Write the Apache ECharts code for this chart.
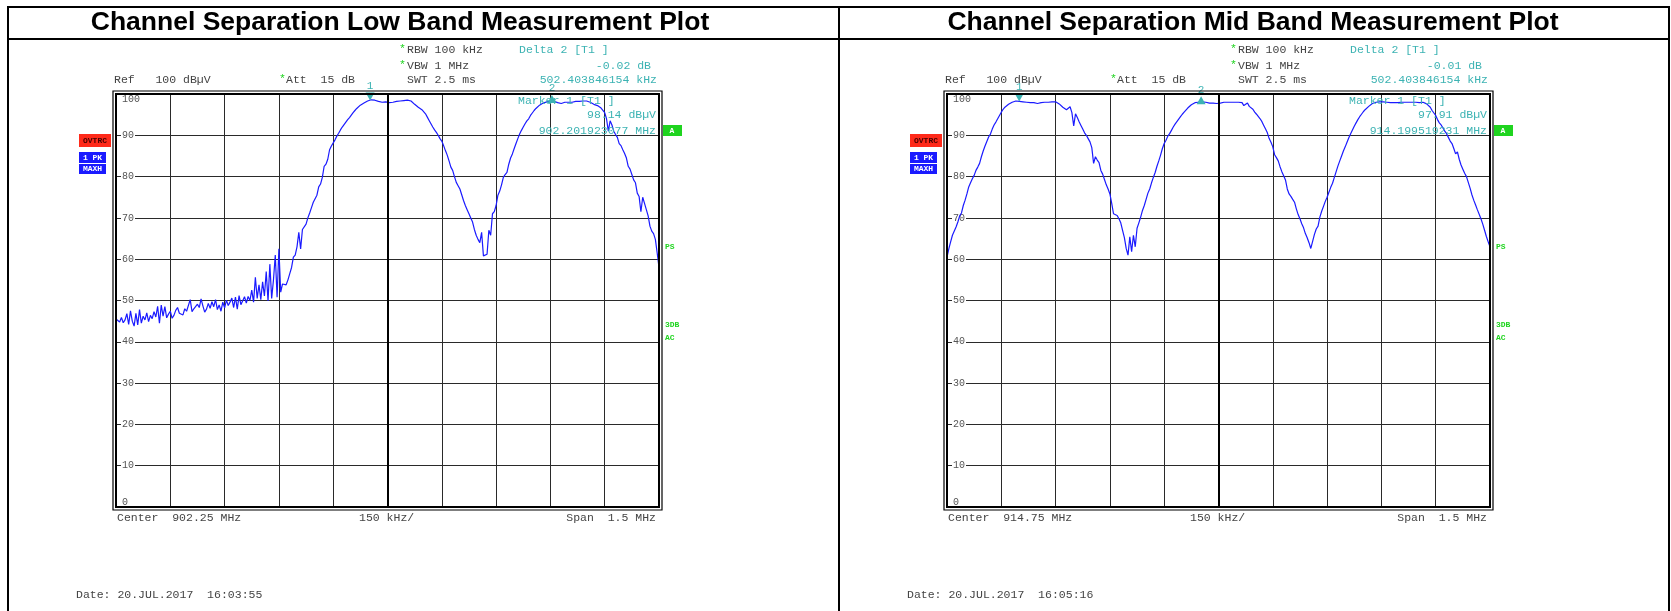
<!DOCTYPE html>
<html>
<head>
<meta charset="utf-8">
<title>Channel Separation Measurement Plots</title>
<script src="https://cdn.jsdelivr.net/npm/echarts@6.0.0/dist/echarts.min.js"></script>
<style>
  html, body { margin: 0; padding: 0; background: #fff; }
  #chart { width: 1671px; height: 611px; }
</style>
</head>
<body>
<div id="chart"></div>
<script>
// sweep: 1.5 MHz span, trace read every 5 kHz from the start frequency
const spanKHz = 1500;
const stepKHz = 5;
const divKHz = 150;
const deltaKHz = 502.403846154;

const lowStartMHz = 901.5;
const midStartMHz = 914.0;
const lowMarker1MHz = 902.201923077;
const midMarker1MHz = 914.199519231;

const titles = ['Channel Separation Low Band Measurement Plot', 'Channel Separation Mid Band Measurement Plot'];
const centerLabels = ['Center  902.25 MHz', 'Center  914.75 MHz'];
const deltaLevels = ['-0.02 dB', '-0.01 dB'];
const markerLevels = ['98.14 dBµV', '97.91 dBµV'];
const markerFreqs = ['902.201923077 MHz', '914.199519231 MHz'];
const dates = ['Date: 20.JUL.2017  16:03:55', 'Date: 20.JUL.2017  16:05:16'];

// low band trace, dBµV
const lowLevels = [
  45.5, 45.2, 44.8, 45.9, 44.6, 45.3, 46.8, 44.2, 47.5, 45.0, 43.8, 46.9, 44.1, 47.8, 44.5, 46.2, 45.3, 47.0, 44.9, 46.4,
  45.6, 47.3, 46.0, 48.6, 44.5, 48.9, 46.2, 48.5, 45.8, 46.7, 47.4, 45.7, 46.4, 47.6, 48.3, 46.9, 47.2, 46.5, 48.0, 47.4,
  47.0, 50.2, 47.3, 48.0, 47.6, 49.1, 48.3, 50.4, 48.7, 47.2, 47.9, 49.3, 48.1, 49.7, 48.5, 50.2, 47.8, 48.9, 47.4, 49.6,
  48.2, 50.1, 48.8, 49.6, 50.6, 48.3, 50.8, 47.9, 51.2, 49.0, 48.6, 50.9, 49.4, 51.0, 50.0, 52.5, 49.6, 55.6, 50.5, 53.8,
  50.2, 54.5, 51.1, 57.0, 49.9, 58.8, 50.5, 55.0, 61.0, 50.8, 62.5, 52.0, 54.0, 54.2, 53.8, 55.0, 56.5, 58.0, 60.5, 61.0,
  63.0, 66.5, 62.5, 67.2, 66.8, 68.5, 70.0, 71.2, 72.5, 73.8, 74.2, 75.5, 77.5, 78.2, 79.8, 82.5, 83.0, 84.2, 86.5, 87.4,
  87.8, 88.9, 89.8, 90.5, 91.3, 92.0, 92.6, 93.2, 93.8, 94.3, 94.9, 95.5, 96.0, 96.5, 96.9, 97.3, 97.6, 97.8, 98.0, 98.3,
  98.4, 98.6, 98.5, 98.5, 98.3, 98.2, 98.1, 98.0, 98.0, 98.1, 98.0, 97.9, 98.0, 98.0, 98.1, 98.2, 98.3, 98.3, 98.4, 98.4,
  98.4, 98.5, 98.5, 98.3, 97.9, 97.5, 97.2, 96.8, 96.7, 96.2, 96.0, 95.2, 94.4, 93.6, 92.8, 92.0, 91.3, 90.7, 90.0, 89.2,
  88.6, 87.5, 86.3, 85.2, 83.8, 82.3, 81.5, 80.0, 78.6, 77.8, 77.0, 75.6, 74.2, 73.0, 72.0, 71.0, 70.0, 69.0, 67.2, 65.8,
  64.8, 64.0, 66.5, 60.8, 61.0, 61.2, 67.0, 65.8, 71.0, 71.5, 73.0, 75.5, 76.5, 78.0, 79.8, 80.5, 81.0, 83.0, 84.5, 85.5,
  86.8, 88.0, 89.2, 90.3, 91.2, 92.0, 92.8, 93.5, 94.0, 94.8, 95.4, 96.0, 96.5, 96.9, 97.3, 97.6, 97.8, 98.0, 98.1, 98.2,
  98.2, 98.3, 98.2, 98.0, 97.9, 97.6, 97.7, 97.9, 98.0, 97.9, 98.0, 98.1, 98.0, 98.1, 98.2, 98.2, 98.2, 98.3, 98.3, 98.3,
  98.3, 98.2, 98.0, 97.8, 97.5, 97.3, 97.2, 96.9, 96.6, 96.2, 95.5, 94.0, 91.0, 93.5, 92.5, 91.0, 90.2, 89.5, 88.0, 87.5,
  86.5, 85.6, 84.5, 82.5, 81.8, 80.5, 79.2, 78.5, 76.0, 75.2, 71.5, 75.0, 73.5, 72.0, 70.5, 68.0, 66.8, 66.2, 64.8, 61.5,
  58.0
];

// mid band trace, dBµV
const midLevels = [
  60.5, 62.5, 64.2, 65.8, 66.2, 67.8, 69.0, 70.5, 71.2, 73.0, 74.3, 75.8, 77.5, 78.5, 79.5, 80.3, 81.5, 82.3, 83.2, 84.8,
  86.2, 87.4, 88.5, 89.6, 90.3, 91.5, 92.5, 93.2, 94.0, 94.8, 95.6, 96.3, 96.8, 97.2, 97.5, 97.8, 98.0, 98.1, 98.3, 98.3,
  98.2, 98.2, 98.1, 98.1, 98.0, 98.0, 97.9, 98.0, 97.9, 97.8, 97.7, 97.8, 97.9, 97.9, 98.0, 98.0, 98.0, 98.1, 98.1, 98.1,
  98.1, 98.0, 97.6, 97.2, 96.8, 96.5, 96.2, 96.0, 96.9, 95.5, 92.3, 95.2, 94.3, 93.3, 92.4, 91.5, 90.6, 90.0, 89.2, 88.4,
  87.0, 83.2, 84.8, 84.0, 83.4, 81.5, 80.6, 79.3, 78.0, 77.0, 75.8, 73.5, 71.0, 70.8, 70.6, 69.8, 68.8, 67.0, 65.2, 62.6,
  61.0, 65.4, 61.8, 65.8, 63.0, 67.5, 68.8, 70.2, 71.8, 73.0, 74.5, 76.0, 77.0, 78.5, 79.8, 81.0, 82.5, 83.8, 85.2, 86.8,
  88.0, 88.8, 89.8, 90.4, 91.2, 92.0, 92.7, 93.3, 93.9, 94.5, 95.1, 95.6, 96.1, 96.6, 97.0, 97.4, 97.7, 97.9, 98.0, 98.0,
  98.0, 98.1, 98.0, 98.0, 97.9, 97.8, 97.9, 97.8, 97.7, 97.7, 97.8, 97.8, 97.9, 98.0, 98.0, 98.0, 98.0, 98.0, 98.0, 98.0,
  98.0, 98.0, 98.0, 97.9, 97.2, 97.5, 97.8, 97.0, 96.8, 96.3, 95.6, 95.1, 94.8, 94.0, 93.3, 92.4, 91.5, 90.6, 89.2, 88.3,
  87.2, 85.3, 84.6, 83.8, 82.4, 81.2, 80.2, 79.2, 77.0, 75.8, 75.2, 74.5, 73.8, 72.2, 70.8, 69.8, 68.6, 67.6, 66.2, 65.2,
  64.0, 62.6, 62.4, 66.0, 67.3, 68.0, 70.2, 71.6, 72.8, 74.0, 75.0, 76.2, 77.4, 78.4, 79.8, 81.2, 82.6, 83.8, 85.0, 86.2,
  87.2, 88.3, 89.4, 90.4, 91.3, 92.2, 93.0, 93.8, 94.5, 95.1, 95.7, 96.2, 96.6, 97.0, 97.4, 97.7, 97.9, 98.0, 98.1, 98.1,
  98.1, 98.1, 98.0, 98.0, 97.9, 97.9, 97.8, 97.9, 97.8, 97.9, 98.0, 98.0, 97.9, 98.0, 98.0, 98.0, 97.9, 98.0, 98.0, 98.0,
  98.0, 97.9, 98.0, 98.0, 97.8, 97.6, 97.3, 96.8, 96.0, 95.4, 94.8, 93.8, 93.0, 92.5, 91.8, 91.0, 90.4, 89.5, 88.6, 88.0,
  86.8, 85.5, 86.0, 84.2, 82.8, 81.8, 80.8, 80.0, 78.6, 77.2, 75.6, 74.3, 73.2, 72.0, 71.8, 69.8, 68.5, 67.0, 65.5, 64.2,
  63.0
];

const mono = '"Liberation Mono", "Courier New", monospace';
const teal = '#3cb3b3';
const green = '#1fd41f';
const traceColor = '#1a1aff';
const gridTop = 94, gridW = 543, gridH = 413;
const gridLefts = [116, 947];

var myChart = null;

const txt = (x, y, text, fill, font, align) => ({
  type: 'text', x: x, y: y, z: 50,
  style: {
    text: text, fill: fill, font: font,
    align: align || 'left', textAlign: align || 'left',
    verticalAlign: 'middle', textVerticalAlign: 'middle'
  }
});
const box = (x, y, w, h, fill) => ({
  type: 'rect', z: 50, shape: { x: x, y: y, width: w, height: h }, style: { fill: fill }
});
const frame = (x, y, w, h, width) => ({
  type: 'rect', z: 60, silent: true, shape: { x: x, y: y, width: w, height: h },
  style: { fill: 'none', stroke: '#000', lineWidth: width }
});

const panelGraphics = (i, titleX) => {
  const dx = i * 831;
  const f = '11.5px ' + mono;
  const small = 'bold 8px ' + mono;
  const gx = gridLefts[i];
  return [
    txt(titleX, 23, titles[i], '#000', 'bold 26.5px "Liberation Sans", Arial, sans-serif', 'center'),
    txt(114 + dx, 80, 'Ref   100 dBµV', '#444', f),
    txt(279 + dx, 79, '*', green, f),
    txt(286 + dx, 80, 'Att  15 dB', '#444', f),
    txt(399 + dx, 49, '*', green, f),
    txt(407 + dx, 50, 'RBW 100 kHz', '#444', f),
    txt(399 + dx, 65, '*', green, f),
    txt(407 + dx, 66, 'VBW 1 MHz', '#444', f),
    txt(407 + dx, 80, 'SWT 2.5 ms', '#444', f),
    txt(519 + dx, 50, 'Delta 2 [T1 ]', teal, f),
    txt(651 + dx, 66, deltaLevels[i], teal, f, 'right'),
    txt(657 + dx, 80, '502.403846154 kHz', teal, f, 'right'),
    txt(518 + dx, 101, 'Marker 1 [T1 ]', teal, f),
    txt(656 + dx, 115, markerLevels[i], teal, f, 'right'),
    txt(656 + dx, 131, markerFreqs[i], teal, f, 'right'),
    box(663 + dx, 125, 19, 11, green),
    txt(672 + dx, 130.5, 'A', '#fff', small, 'center'),
    txt(665 + dx, 247, 'PS', green, small),
    txt(665 + dx, 325, '3DB', green, small),
    txt(665 + dx, 338, 'AC', green, small),
    box(79 + dx, 134, 32, 13, '#ff2a1a'),
    txt(95 + dx, 140.5, 'OVTRC', '#400', small, 'center'),
    box(79 + dx, 152, 27, 11, traceColor),
    txt(92.5 + dx, 157.5, '1 PK', '#fff', small, 'center'),
    box(79 + dx, 164, 27, 10, traceColor),
    txt(92.5 + dx, 169, 'MAXH', '#fff', small, 'center'),
    txt(117 + dx, 518, centerLabels[i], '#444', f),
    txt(359 + dx, 518, '150 kHz/', '#444', f),
    txt(656 + dx, 518, 'Span  1.5 MHz', '#444', f, 'right'),
    txt(76 + dx, 595, dates[i], '#444', f),
    frame(gx, gridTop, gridW, gridH, 2),
    frame(gx - 3, gridTop - 3, gridW + 6, gridH + 6, 1.2)
  ];
};

const pointAt = (levels, kHz) => [kHz, levels[Math.round(kHz / stepKHz)]];

const traceSeries = (i, levels, marker1KHz) => ({
  type: 'line',
  xAxisIndex: i,
  yAxisIndex: i,
  data: levels.map((v, k) => [k * stepKHz, v]),
  symbol: 'none',
  lineStyle: { color: traceColor, width: 1.2 },
  markLine: {
    silent: true,
    symbol: 'none',
    label: { show: false },
    lineStyle: { color: '#000', width: 2, type: 'solid' },
    data: [{ xAxis: spanKHz / 2 }]
  },
  markPoint: {
    symbol: 'triangle',
    symbolSize: [9, 8],
    itemStyle: { color: teal },
    label: { position: 'top', color: teal, fontFamily: mono, fontSize: 11, distance: 1 },
    data: [
      { coord: pointAt(levels, marker1KHz), symbolRotate: 180, symbolOffset: [0, -4], label: { formatter: '1' } },
      { coord: pointAt(levels, marker1KHz + deltaKHz), symbolOffset: [0, -2], label: { formatter: '2' } }
    ]
  }
});

const getOptions = () => {
  return {
    animation: false,
    backgroundColor: '#fff',
    grid: gridLefts.map(l => ({ left: l, top: gridTop, width: gridW, height: gridH })),
    xAxis: [0, 1].map(i => ({
      gridIndex: i,
      type: 'value',
      min: 0,
      max: spanKHz,
      interval: divKHz,
      axisLine: { show: false },
      axisTick: { show: false },
      axisLabel: { show: false },
      splitLine: { show: true, lineStyle: { color: '#2a2a2a', width: 1 } }
    })),
    yAxis: [0, 1].map(i => ({
      gridIndex: i,
      type: 'value',
      min: 0,
      max: 100,
      interval: 10,
      axisLine: { show: false },
      axisTick: { show: false },
      axisLabel: {
        inside: true,
        margin: 5,
        color: '#555',
        fontFamily: mono,
        fontSize: 10,
        backgroundColor: '#fff',
        padding: [0, 1],
        verticalAlignMinLabel: 'bottom',
        verticalAlignMaxLabel: 'top'
      },
      splitLine: { show: true, lineStyle: { color: '#2a2a2a', width: 1 } }
    })),
    series: [
      traceSeries(0, lowLevels, (lowMarker1MHz - lowStartMHz) * 1000),
      traceSeries(1, midLevels, (midMarker1MHz - midStartMHz) * 1000)
    ],
    graphic: {
      elements: [
        frame(8, 7, 1661, 640, 2),
        { type: 'line', z: 60, shape: { x1: 8, y1: 39, x2: 1669, y2: 39 }, style: { stroke: '#000', lineWidth: 2 } },
        { type: 'line', z: 60, shape: { x1: 839, y1: 7, x2: 839, y2: 611 }, style: { stroke: '#000', lineWidth: 2 } }
      ].concat(panelGraphics(0, 400), panelGraphics(1, 1253))
    }
  };
};

window.onload = () => {
  myChart = echarts.init(document.getElementById('chart'));
  myChart.setOption(getOptions());
  window.addEventListener('resize', () => myChart.resize());
};
</script>
</body>
</html>
